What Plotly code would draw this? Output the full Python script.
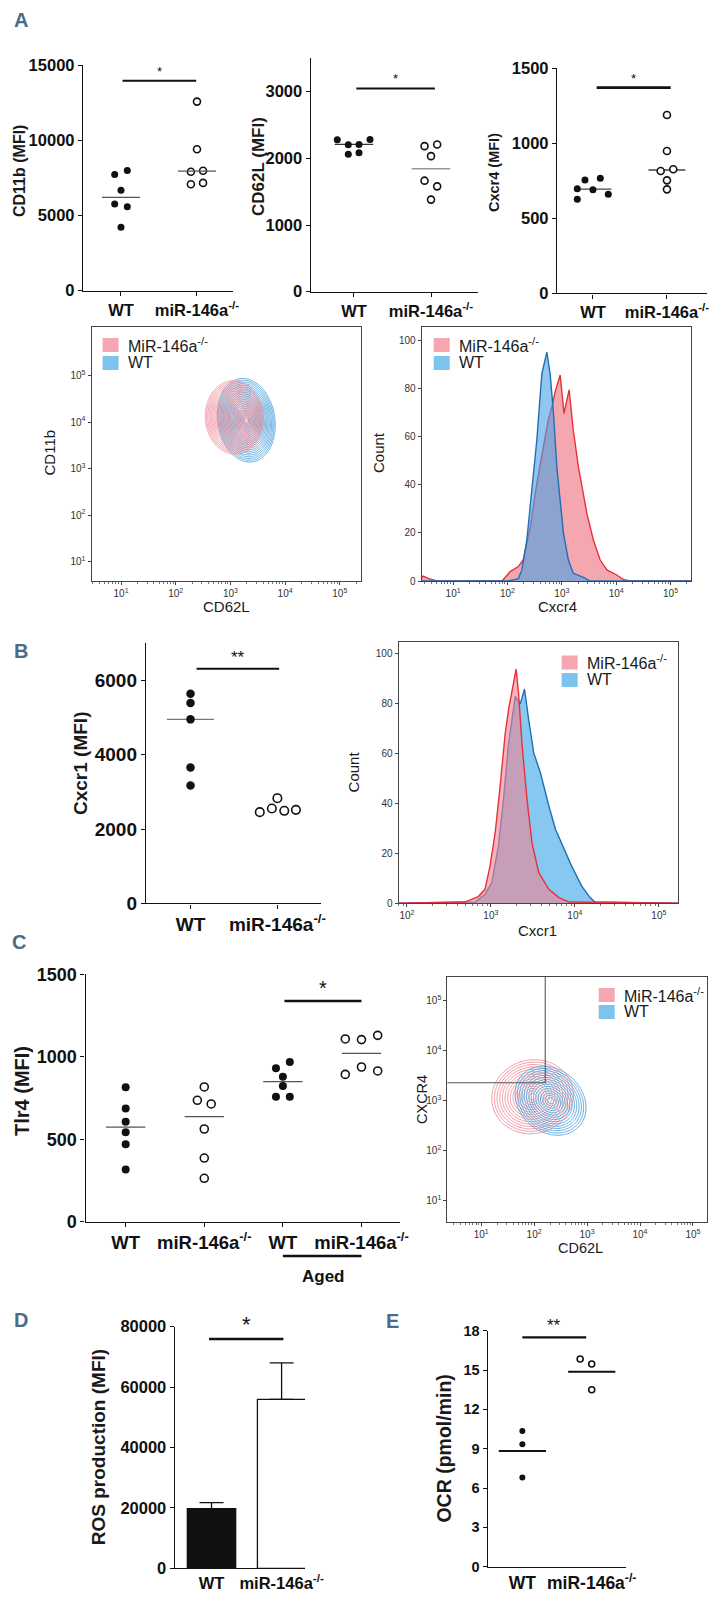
import numpy as np
import plotly.graph_objects as go

W, H = 721, 1598

# ------------------------------------------------------------------ data
CATS2 = ["WT", "miR-146a<sup>-/-</sup>"]
CATS4 = ["WT", "miR-146a<sup>-/-</sup>", "WT", "miR-146a<sup>-/-</sup>"]

# Panel A - dot plots (MFI)
A1_WT = [7723, 7991, 6674, 5759, 5580, 4219]
A1_KO = [12567, 9397, 7902, 7969, 7076, 7165]
A1_MED = [6205, 7946]
A2_WT = [2278, 2282, 2203, 2208, 2063, 2084]
A2_KO = [2183, 2208, 2033, 1665, 1580, 1381]
A2_MED = [2208, 1844]
A3_WT = [755, 767, 697, 691, 660, 627]
A3_KO = [1189, 949, 815, 827, 753, 693]
A3_MED = [695, 822]

# Panel A - Cxcr4 histogram (log10 fluorescence, count)
HA_KO_LOGX = [0.42, 0.45, 0.55, 0.7, 1.9, 2.05, 2.20, 2.29, 2.42, 2.54, 2.66, 2.75, 2.816,
              2.877, 2.969, 3.04, 3.134, 3.21, 3.305, 3.46, 3.58, 3.705, 3.83, 4.01, 4.13, 4.25, 5.38]
HA_KO_CNT = [1.5, 2, 1, 0, 0, 3.9, 6, 8.7, 22.5, 40.5, 55.7, 66.8, 72.3,
             78.5, 85.5, 69.6, 79.3, 62.7, 47.4, 28.1, 17, 8.7, 4.6, 2.5, 0.7, 0, 0]
HA_WT_LOGX = [0.42, 2.0, 2.2, 2.264, 2.356, 2.448, 2.54, 2.632, 2.724, 2.785, 2.846, 2.908,
              2.969, 3.03, 3.12, 3.21, 3.40, 3.52, 5.38]
HA_WT_CNT = [0, 0, 1, 4.6, 17, 37.8, 58.5, 86, 95, 86, 69.6, 47.4,
             33.6, 19.8, 8.7, 3.2, 1.5, 0, 0]

# Panel B
B_WT = [5642, 5391, 4952, 3654, 3170]
B_KO = [2454, 2552, 2830, 2490, 2516]
B_MED = [4952]
HB_KO_LOGX = [1.90, 2.69, 2.85, 2.93, 2.99, 3.05, 3.11, 3.17, 3.21, 3.27, 3.30, 3.33, 3.37,
              3.43, 3.49, 3.57, 3.69, 3.81, 3.93, 5.23]
HB_KO_CNT = [0, 0.5, 2.7, 5.6, 15, 28, 47, 68, 77.6, 89.6, 93.9, 84, 64,
             41.6, 24, 12.3, 5.6, 2.3, 0.5, 0]
HB_WT_LOGX = [1.90, 2.81, 2.93, 3.01, 3.09, 3.15, 3.21, 3.27, 3.29, 3.35, 3.40, 3.45, 3.51,
              3.59, 3.69, 3.77, 3.87, 3.96, 4.08, 4.18, 4.24, 5.23]
HB_WT_CNT = [0, 0.5, 3.6, 8.3, 23, 41.6, 64, 77.6, 83, 80, 85.9, 73.6, 60.3,
             52.3, 39, 29.6, 21.6, 15, 7, 2.3, 0.5, 0]

# Panel C - Tlr4
C_WT = [815, 687, 606, 542, 469, 317]
C_KO = [817, 736, 714, 562, 386, 263]
C_AGED_WT = [968, 930, 879, 823, 758, 758]
C_AGED_KO = [1108, 1104, 1130, 893, 938, 914]
C_MED = [574, 637, 849, 1021]

# Panel D - ROS
ROS_MEAN = [19750, 55950]
ROS_SEM = [2000, 12100]

# Panel E - OCR
E_WT = [10.35, 9.33, 6.81]
E_KO = [15.84, 15.46, 13.5]
E_MED = [8.82, 14.87]

# Flow contour populations (log10 centre x, y; outer half-extent x, y; tilt)
CA_KO = dict(cx=3.07, cy=4.10, rx=0.53, ry=0.79, rho=-0.03)
CA_WT = dict(cx=3.29, cy=4.04, rx=0.53, ry=0.90, rho=-0.12)
CC_KO = dict(cx=1.97, cy=3.07, rx=0.77, ry=0.74, rho=0.05)
CC_WT = dict(cx=2.31, cy=2.99, rx=0.67, ry=0.69, rho=-0.2)
GATE_X, GATE_Y = 10 ** 2.21, 10 ** 3.35

# ------------------------------------------------------------------ layout helpers (positions/styles)
A1_WT_DX = [-0.083, 0.083, 0, -0.083, 0.083, 0]
A1_KO_DX = [0, 0, -0.08, 0.08, -0.08, 0.08]
A2_WT_DX = [-0.217, 0.208, -0.074, 0.065, -0.074, 0.065]
A2_KO_DX = [-0.084, 0.080, 0, -0.084, 0.080, 0]
A3_WT_DX = [-0.108, 0.099, -0.212, 0, 0.207, -0.212]
A3_KO_DX = [0, 0, -0.085, 0.085, 0, 0]
B_KO_DX = [-0.203, -0.064, 0, 0.079, 0.213]
C_KO_DX = [0, -0.088, 0.088, 0, 0, 0]
C_AW_DX = [0.088, -0.088, 0, 0, -0.088, 0.088]
C_AK_DX = [-0.206, 0, 0.206, -0.206, 0, 0.206]
E_KO_DX = [-0.167, 0, 0]

FONT = "Liberation Sans, Arial, sans-serif"
NARROW = "Liberation Sans Narrow, Arial Narrow, Liberation Sans, sans-serif"
BLACK = "#111111"
PINK_LINE = "#e8303a"
BLUE_LINE = "#1f6fb8"
PINK_FILL = "rgb(245,167,176)"
BLUE_FILL = "rgb(135,200,240)"
LEG_PINK = "#f4a7b0"
LEG_BLUE = "#7dc3eb"


def xd(l, r):
    return [l / W, r / W]


def yd(t, b):
    return [1 - b / H, 1 - t / H]


def px(x):
    return x / W


def py(y):
    return 1 - y / H


fig = go.Figure()
layout = dict(width=W, height=H, margin=dict(l=0, r=0, t=0, b=0),
              paper_bgcolor="white", plot_bgcolor="rgba(0,0,0,0)",
              showlegend=False, font=dict(family=FONT, color="#222"))
annotations = []
shapes = []


def dot_axes(i, xdom, ydom, xrange, yrange, yticks, tickvals, ticktext, yfs, xfs):
    layout[f"xaxis{i}"] = dict(domain=xdom, range=xrange, anchor=f"y{i}", showline=True,
                               linecolor=BLACK, linewidth=1.4, ticks="outside", ticklen=4,
                               tickwidth=1.2, tickcolor=BLACK, tickvals=tickvals,
                               ticktext=ticktext, showgrid=False, zeroline=False,
                               tickfont=dict(family=FONT, size=xfs, weight="bold", color=BLACK),
                               automargin=False, fixedrange=True)
    layout[f"yaxis{i}"] = dict(domain=ydom, range=yrange, anchor=f"x{i}", showline=True,
                               linecolor=BLACK, linewidth=1.4, ticks="outside", ticklen=4,
                               tickwidth=1.2, tickcolor=BLACK, tickvals=yticks,
                               tickformat="d", showgrid=False, zeroline=False,
                               tickfont=dict(family=FONT, size=yfs, weight="bold", color=BLACK),
                               automargin=False, fixedrange=True)


def ax(i):
    return ("x" if i == 1 else f"x{i}"), ("y" if i == 1 else f"y{i}")


def dots(i, cx, vals, dxs, filled, size=7):
    xa, ya = ax(i)
    fig.add_trace(go.Scatter(
        x=[cx + d for d in dxs], y=vals, mode="markers", xaxis=xa, yaxis=ya,
        marker=dict(size=size, color=BLACK if filled else "white",
                    line=dict(color=BLACK, width=0 if filled else 1.6)),
        hoverinfo="skip"))


def median(i, cx, m, half=0.25, color="#666", width=1.3):
    xa, ya = ax(i)
    fig.add_trace(go.Scatter(x=[cx - half, cx + half], y=[m, m], mode="lines",
                             xaxis=xa, yaxis=ya, line=dict(color=color, width=width),
                             hoverinfo="skip"))


def sigbar(i, x0, x1, yv, stars, size, width=2):
    xa, ya = ax(i)
    fig.add_trace(go.Scatter(x=[x0, x1], y=[yv, yv], mode="lines", xaxis=xa, yaxis=ya,
                             line=dict(color=BLACK, width=width), hoverinfo="skip"))
    annotations.append(dict(text=stars, x=(x0 + x1) / 2, y=yv, xref=xa, yref=ya,
                            yanchor="bottom", showarrow=False, yshift=0,
                            font=dict(family=FONT, size=size, color=BLACK)))


def title(text, x, y, size, angle=-90, bold=True, family=FONT):
    annotations.append(dict(text=(f"<b>{text}</b>" if bold else text), x=px(x), y=py(y),
                            xref="paper", yref="paper", showarrow=False, textangle=angle,
                            xanchor="center", yanchor="middle",
                            font=dict(family=family, size=size, color="#1a1a1a")))


LOG_TICKS = [10, 100, 1000, 10000, 100000]
LOG_TEXT = ["10<sup>1</sup>", "10<sup>2</sup>", "10<sup>3</sup>", "10<sup>4</sup>", "10<sup>5</sup>"]
MINOR = [k * 10 ** n for n in range(0, 6) for k in range(2, 10)]


def flow_axes(i, xdom, ydom, xlog, ylog=None, yrange=None, yticks=None):
    layout[f"xaxis{i}"] = dict(domain=xdom, type="log", range=xlog, anchor=f"y{i}",
                               showline=True, mirror=True, linecolor="#444", linewidth=1,
                               ticks="outside", ticklen=3, tickcolor="#444",
                               tickvals=LOG_TICKS, ticktext=LOG_TEXT,
                               minor=dict(ticks="outside", ticklen=2, tickcolor="#777",
                                          tickvals=MINOR),
                               showgrid=False, zeroline=False, automargin=False,
                               tickfont=dict(family=FONT, size=10, color="#333"),
                               fixedrange=True)
    if ylog is not None:
        layout[f"yaxis{i}"] = dict(domain=ydom, type="log", range=ylog, anchor=f"x{i}",
                                   showline=True, mirror=True, linecolor="#444", linewidth=1,
                                   ticks="outside", ticklen=3, tickcolor="#444",
                                   tickvals=LOG_TICKS, ticktext=LOG_TEXT,
                                   showgrid=False, zeroline=False, automargin=False,
                                   tickfont=dict(family=FONT, size=10, color="#333"),
                                   fixedrange=True)
    else:
        layout[f"yaxis{i}"] = dict(domain=ydom, range=yrange, anchor=f"x{i}",
                                   showline=True, mirror=True, linecolor="#444", linewidth=1,
                                   ticks="outside", ticklen=3, tickcolor="#444",
                                   tickvals=yticks, showgrid=False, zeroline=False,
                                   automargin=False,
                                   tickfont=dict(family=FONT, size=10, color="#333"),
                                   fixedrange=True)


def contour_pop(i, p, xlog, ylog, color, step=0.05, width=0.8):
    xa, ya = ax(i)
    gx = np.linspace(xlog[0], xlog[1], 240)
    gy = np.linspace(ylog[0], ylog[1], 240)
    X, Y = np.meshgrid(gx, gy)
    u = (X - p["cx"]) / p["rx"]
    v = (Y - p["cy"]) / p["ry"]
    r = np.sqrt((u * u - 2 * p["rho"] * u * v + v * v) / (1 - p["rho"] ** 2))
    fig.add_trace(go.Contour(
        x=10 ** gx, y=10 ** gy, z=-r, xaxis=xa, yaxis=ya,
        contours=dict(start=-1.0, end=-step, size=step, coloring="lines"),
        colorscale=[[0, color], [1, color]], showscale=False,
        line=dict(width=width), hoverinfo="skip"))


def hist(i, logx, cnt, line, fill):
    xa, ya = ax(i)
    fig.add_trace(go.Scatter(x=[10 ** v for v in logx], y=cnt, mode="lines",
                             xaxis=xa, yaxis=ya, fill="tozeroy", fillcolor=fill,
                             line=dict(color=line, width=1.4), hoverinfo="skip"))


def legend_box(x, y_pink, y_blue, fs=16):
    for yc, col, txt in [(y_pink, LEG_PINK, "MiR-146a<sup>-/-</sup>"), (y_blue, LEG_BLUE, "WT")]:
        shapes.append(dict(type="rect", xref="paper", yref="paper", x0=px(x), x1=px(x + 16),
                           y0=py(yc + 7), y1=py(yc - 7), fillcolor=col, line=dict(width=0)))
        annotations.append(dict(text=txt, x=px(x + 23), y=py(yc), xref="paper", yref="paper",
                                xanchor="left", yanchor="middle", showarrow=False,
                                font=dict(family=NARROW, size=fs, color="#1a1a1a")))


# ------------------------------------------------------------------ Panel A dot plots
dot_axes(1, xd(83, 233), yd(65, 290.7), [-0.5, 1.474], [0, 15000],
         [0, 5000, 10000, 15000], [0, 1], CATS2, 16.5, 16.5)
dots(1, 0, A1_WT, A1_WT_DX, True)
dots(1, 1, A1_KO, A1_KO_DX, False)
median(1, 0, A1_MED[0], color="#555")
median(1, 1, A1_MED[1], color="#555")
sigbar(1, 0.02, 0.99, 13950, "*", 13)

dot_axes(2, xd(310.7, 478), yd(58.3, 291.7), [-0.562, 1.610], [0, 3500],
         [0, 1000, 2000, 3000], [0, 1], CATS2, 16.5, 16.5)
median(2, 0, A2_MED[0], color="#333")
median(2, 1, A2_MED[1], color="#999")
dots(2, 0, A2_WT, A2_WT_DX, True)
dots(2, 1, A2_KO, A2_KO_DX, False)
sigbar(2, 0.03, 1.05, 3049, "*", 13)

dot_axes(3, xd(557, 707), yd(68.3, 293.3), [-0.486, 1.541], [0, 1500],
         [0, 500, 1000, 1500], [0, 1], CATS2, 16.5, 16.5)
median(3, 0, A3_MED[0], color="#444")
median(3, 1, A3_MED[1], color="#444")
dots(3, 0, A3_WT, A3_WT_DX, True)
dots(3, 1, A3_KO, A3_KO_DX, False)
sigbar(3, 0.05, 1.05, 1371, "*", 13, width=2.6)

title("CD11b (MFI)", 20, 171, 16)
title("CD62L (MFI)", 259, 167, 17)
title("Cxcr4 (MFI)", 494, 173, 14.5)

# ------------------------------------------------------------------ Panel A flow
CA_XLOG = [0.46, 5.38]
CA_YLOG = [0.58, 6.04]
flow_axes(4, xd(91.5, 360.6), yd(327.3, 581), CA_XLOG, ylog=CA_YLOG)
contour_pop(4, CA_WT, CA_XLOG, CA_YLOG, "#3f98d8", step=0.042, width=0.75)
contour_pop(4, CA_KO, CA_XLOG, CA_YLOG, "#f08894", step=0.042, width=0.75)
legend_box(102.6, 345, 363)
title("CD11b", 48.5, 453, 15, bold=False)
title("CD62L", 226.5, 606, 15, angle=0, bold=False)

HA_XLOG = [0.42, 5.38]
flow_axes(5, xd(421.6, 691.2), yd(327.3, 581), HA_XLOG, yrange=[0, 105.3],
          yticks=[0, 20, 40, 60, 80, 100])
hist(5, HA_KO_LOGX, HA_KO_CNT, PINK_LINE, PINK_FILL)
hist(5, HA_WT_LOGX, HA_WT_CNT, BLUE_LINE, "rgba(70,160,230,0.6)")
legend_box(433.7, 345, 363)
title("Count", 378, 453, 15, bold=False)
title("Cxcr4", 557, 606, 15, angle=0, bold=False)

# ------------------------------------------------------------------ Panel B
dot_axes(6, xd(146, 321.3), yd(643.3, 903.3), [-0.512, 1.505], [0, 7000],
         [0, 2000, 4000, 6000], [0, 1], CATS2, 19, 19)
median(6, 0, B_MED[0], half=0.27, color="#777")
dots(6, 0, B_WT, [0] * len(B_WT), True, size=8.5)
dots(6, 1, B_KO, B_KO_DX, False, size=8.5)
sigbar(6, 0.07, 1.02, 6313, "**", 17)
title("Cxcr1 (MFI)", 81, 764, 19)

HB_XLOG = [1.90, 5.23]
flow_axes(7, xd(398.5, 678.2), yd(641.7, 903.3), HB_XLOG, yrange=[0, 104.9],
          yticks=[0, 20, 40, 60, 80, 100])
hist(7, HB_WT_LOGX, HB_WT_CNT, BLUE_LINE, BLUE_FILL)
hist(7, HB_KO_LOGX, HB_KO_CNT, PINK_LINE, "rgba(242,130,147,0.6)")
legend_box(561.7, 662.5, 680)
title("Count", 353.7, 771.7, 15, bold=False)
title("Cxcr1", 537.7, 930, 15, angle=0, bold=False)

# ------------------------------------------------------------------ Panel C
dot_axes(8, xd(85.5, 400), yd(974.3, 1221.7), [-0.511, 3.49], [0, 1500],
         [0, 500, 1000, 1500], [0, 1, 2, 3], CATS4, 18, 18.5)
for k, m in enumerate(C_MED):
    median(8, k, m, color="#555")
dots(8, 0, C_WT, [0] * 6, True, size=8)
dots(8, 1, C_KO, C_KO_DX, False, size=8)
dots(8, 2, C_AGED_WT, C_AW_DX, True, size=8)
dots(8, 3, C_AGED_KO, C_AK_DX, False, size=8)
sigbar(8, 2.02, 3.0, 1338, "*", 20, width=2.4)
shapes.append(dict(type="line", xref="x8", yref="paper", x0=2.0, x1=3.0,
                   y0=py(1256), y1=py(1256), line=dict(color=BLACK, width=2.4)))
annotations.append(dict(text="<b>Aged</b>", x=px(323.6), y=py(1276), xref="paper",
                        yref="paper", showarrow=False, xanchor="center", yanchor="middle",
                        font=dict(family=FONT, size=17, color=BLACK)))
title("Tlr4 (MFI)", 22, 1091, 20)

CC_XLOG = [0.36, 5.26]
CC_YLOG = [0.57, 5.47]
flow_axes(9, xd(447.3, 706.7), yd(976.7, 1221.7), CC_XLOG, ylog=CC_YLOG)
contour_pop(9, CC_KO, CC_XLOG, CC_YLOG, "#f07d8a", step=0.065)
contour_pop(9, CC_WT, CC_XLOG, CC_YLOG, "#3c96d6", step=0.065)
fig.add_trace(go.Scatter(x=[GATE_X, GATE_X, 10 ** CC_XLOG[0]],
                         y=[10 ** CC_YLOG[1], GATE_Y, GATE_Y], mode="lines",
                         xaxis="x9", yaxis="y9", line=dict(color="#555", width=1.1),
                         hoverinfo="skip"))
legend_box(598.7, 995, 1012)
title("CXCR4", 422, 1100, 14.5, bold=False)
title("CD62L", 580, 1248, 14.5, angle=0, bold=False)

# ------------------------------------------------------------------ Panel D
layout["xaxis10"] = dict(domain=xd(174.8, 305), range=[-0.524, 1.334], anchor="y10",
                         showline=True, linecolor=BLACK, linewidth=1.4, ticks="",
                         tickvals=[0, 1], ticktext=CATS2, showgrid=False, zeroline=False,
                         tickfont=dict(family=FONT, size=16.5, weight="bold", color=BLACK),
                         automargin=False, fixedrange=True)
layout["yaxis10"] = dict(domain=yd(1326.7, 1568.3), range=[0, 80000], anchor="x10",
                         showline=True, linecolor=BLACK, linewidth=1.4, ticks="outside",
                         ticklen=4, tickcolor=BLACK, tickvals=[0, 20000, 40000, 60000, 80000],
                         tickformat="d", showgrid=False, zeroline=False,
                         tickfont=dict(family=FONT, size=16.5, weight="bold", color=BLACK),
                         automargin=False, fixedrange=True)
fig.add_trace(go.Bar(x=[0, 1], y=ROS_MEAN, width=0.69, xaxis="x10", yaxis="y10",
                     marker=dict(color=[BLACK, "white"], line=dict(color=BLACK, width=1.3)),
                     error_y=dict(type="data", array=ROS_SEM, arrayminus=[0, 0],
                                  symmetric=False, color=BLACK, thickness=1.3, width=12),
                     hoverinfo="skip"))
sigbar(10, -0.036, 1.025, 75917, "*", 22, width=2.4)
title("ROS production (MFI)", 98.7, 1447.5, 19)

# ------------------------------------------------------------------ Panel E
dot_axes(11, xd(487.7, 626.4), yd(1330.7, 1566.7), [-0.5, 1.5], [0, 18],
         [0, 3, 6, 9, 12, 15, 18], [0, 1], CATS2, 14.5, 17.5)
layout["xaxis11"]["ticks"] = ""
median(11, 0, E_MED[0], half=0.34, color=BLACK, width=2)
median(11, 1, E_MED[1], half=0.34, color=BLACK, width=2)
dots(11, 0, E_WT, [0, 0, 0], True, size=6)
dots(11, 1, E_KO, E_KO_DX, False, size=6)
sigbar(11, 0.0, 0.92, 17.49, "**", 17, width=2.2)
title("OCR (pmol/min)", 444.3, 1448.3, 19.5)

# ------------------------------------------------------------------ panel letters
for letter, x, y in [("A", 21, 20), ("B", 21, 651), ("C", 19, 942), ("D", 21, 1320), ("E", 392, 1321)]:
    annotations.append(dict(text=f"<b>{letter}</b>", x=px(x), y=py(y), xref="paper", yref="paper",
                            showarrow=False, xanchor="center", yanchor="middle",
                            font=dict(family=NARROW, size=20, color="#4d6b8a")))

layout["annotations"] = annotations
layout["shapes"] = shapes
fig.update_layout(**layout)

fig.write_html("out.html", config={"displayModeBar": False},
               post_script="document.body.style.margin='0';")
